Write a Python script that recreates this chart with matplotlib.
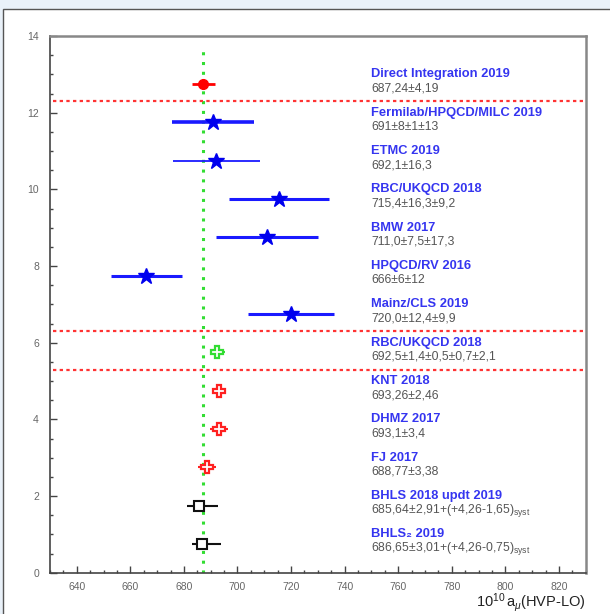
import numpy as np
import matplotlib
matplotlib.use("Agg")
import matplotlib.pyplot as plt
from matplotlib.patches import Rectangle
from matplotlib.ticker import MultipleLocator

plt.rcParams['font.family'] = ['Liberation Sans', 'DejaVu Sans']
plt.rcParams['mathtext.fontset'] = 'custom'
plt.rcParams['mathtext.rm'] = 'Liberation Sans'
plt.rcParams['mathtext.it'] = 'Liberation Sans:italic'
plt.rcParams['mathtext.bf'] = 'Liberation Sans:bold'

# ---- data ----
titles = ["Direct Integration 2019", "Fermilab/HPQCD/MILC 2019", "ETMC 2019",
          "RBC/UKQCD 2018", "BMW 2017", "HPQCD/RV 2016", "Mainz/CLS 2019",
          "RBC/UKQCD 2018", "KNT 2018", "DHMZ 2017", "FJ 2017",
          "BHLS 2018 updt 2019", "BHLS\u2082 2019"]
value_texts = ["687,24±4,19", "691±8±1±13", "692,1±16,3", "715,4±16,3±9,2",
               "711,0±7,5±17,3", "666±6±12", "720,0±12,4±9,9",
               "692,5±1,4±0,5±0,7±2,1", "693,26±2,46", "693,1±3,4", "688,77±3,38",
               r"685,64±2,91+(+4,26-1,65)$_{\rm syst}$",
               r"686,65±3,01+(+4,26-0,75)$_{\rm syst}$"]
values = [687.24, 691.0, 692.1, 715.4, 711.0, 666.0, 720.0,
          692.5, 693.26, 693.1, 688.77, 685.64, 686.65]
err_lo = [4.19, 15.3, 16.3, 18.7, 18.9, 13.4, 15.9, 2.67, 2.46, 3.4, 3.38, 4.56, 3.76]
err_hi = [4.19, 15.3, 16.3, 18.7, 18.9, 13.4, 15.9, 2.67, 2.46, 3.4, 3.38, 7.17, 7.27]
groups = ["direct", "lattice", "lattice", "lattice", "lattice", "lattice", "lattice",
          "rbc", "pheno", "pheno", "pheno", "bhls", "bhls"]
separators = [12.3, 6.3, 5.3]
reference_value = 687.24

styles = {
    "direct": dict(marker='o', color='#ff0000', mfc='#ff0000', mec='#ff0000', ms=7, mew=1),
    "lattice": dict(marker='*', color='#1a1aff', mfc='#0000ee', mec='#0000ee', ms=12, mew=1),
    "rbc": dict(marker='P', color='#33dd33', mfc='white', mec='#33dd33', ms=8, mew=1.6),
    "pheno": dict(marker='P', color='#ff2020', mfc='white', mec='#ff2020', ms=8, mew=1.6),
    "bhls": dict(marker='s', color='#111111', mfc='white', mec='#111111', ms=7, mew=1.5),
}
line_widths = [2.0, 2.6, 1.3, 2.2, 2.2, 2.2, 2.2, 1.5, 1.5, 1.5, 1.5, 1.5, 1.5]

W, H = 610, 614
fig = plt.figure(figsize=(W / 100, H / 100), dpi=100)
fig.patch.set_facecolor('#e9f1f9')
frame = Rectangle((3 / W, -0.01), 1.0, (H - 9) / H + 0.01,
                  transform=fig.transFigure, facecolor='white',
                  edgecolor='#555555', lw=1.0, zorder=-10)
fig.add_artist(frame)

ax = fig.add_axes([50 / W, (H - 572.7) / H, (585.7 - 50) / W, (572.7 - 36) / H])
ax.set_facecolor('white')
ax.set_xlim(630, 830)
ax.set_ylim(0, 14)

n = len(values)
ypos = 12.75 - np.arange(n)

# reference vertical line
ax.plot([reference_value, reference_value], [0, 13.77], color='#33dd33', lw=2.2,
        linestyle=(0, (1, 2.2)), zorder=1)
# separators
for s in separators:
    ax.plot([631, 830], [s, s], color='#ff3333', lw=1.6, linestyle=(0, (1.5, 1.5)), zorder=1)

for i in range(n):
    st = styles[groups[i]]
    ax.errorbar(values[i], ypos[i], xerr=[[err_lo[i]], [err_hi[i]]], fmt='none',
                ecolor=st['color'], elinewidth=line_widths[i], capsize=0, zorder=2)
    ax.plot(values[i], ypos[i], linestyle='none', marker=st['marker'], ms=st['ms'],
            mfc=st['mfc'], mec=st['mec'], mew=st['mew'], zorder=3)
    ax.text(750, ypos[i] + 0.25, titles[i], color='#3535f0', fontsize=9.3,
            fontweight='bold', ha='left', va='center')
    ax.text(750, ypos[i] - 0.12, value_texts[i], color='#555555', fontsize=8.8,
            ha='left', va='center')

ax.xaxis.set_major_locator(MultipleLocator(20))
ax.xaxis.set_minor_locator(MultipleLocator(5))
ax.yaxis.set_major_locator(MultipleLocator(2))
ax.yaxis.set_minor_locator(MultipleLocator(0.5))
ax.set_xticks(np.arange(640, 821, 20))
ax.tick_params(axis='both', which='major', direction='in', length=5, width=1,
               color='#444444', labelcolor='#666666', labelsize=7.5)
ax.tick_params(axis='both', which='minor', direction='in', length=2.5, width=1,
               color='#444444')
ax.tick_params(axis='y', which='both', pad=8)
ax.tick_params(axis='x', which='both', pad=7)
ax.tick_params(top=False, right=False, which='both')

for side in ['left', 'bottom']:
    ax.spines[side].set_color('#444444')
    ax.spines[side].set_linewidth(1.2)
for side in ['top', 'right']:
    ax.spines[side].set_color('#888888')
    ax.spines[side].set_linewidth(1.8)

fig.text(585.7 / W, (H - 603) / H, r'$10^{10}\,\mathrm{a}_{\mu}$(HVP-LO)', ha='right', va='center',
         fontsize=10.5, color='#222222')

fig.savefig('out.png', dpi=100, facecolor=fig.get_facecolor())
